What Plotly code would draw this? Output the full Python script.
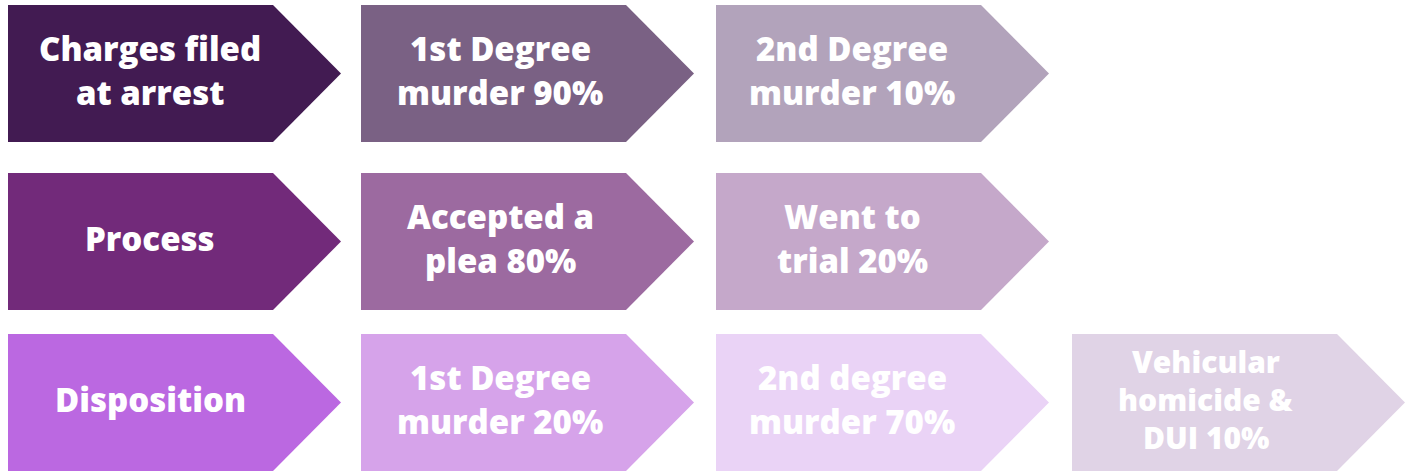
import plotly.graph_objects as go

# ---- data ----
stage_names = ["Charges filed at arrest", "Process", "Disposition"]
stage_lines = [["Charges filed", "at arrest"], ["Process"], ["Disposition"]]

arrest_outcomes = [["1st Degree", "murder"], ["2nd Degree", "murder"]]
arrest_pct = [90, 10]

process_outcomes = [["Accepted a", "plea"], ["Went to", "trial"]]
process_pct = [80, 20]

disposition_outcomes = [["1st Degree", "murder"], ["2nd degree", "murder"], ["Vehicular", "homicide &", "DUI"]]
disposition_pct = [20, 70, 10]

stage_colors = ["#421B52", "#722A7A", "#BB68E1"]
outcome_colors = [
    ["#7A6184", "#B2A3BB"],
    ["#9C6AA0", "#C5A8CA"],
    ["#D6A3EA", "#EAD3F6", "#E0D3E6"],
]

# ---- layout constants (page pixel coordinates) ----
W, H = 1412, 472
COL_X0 = [8, 361, 716, 1072]
RECT_W = 265
TIP = 68
ROW_TOP = [5, 173, 334]
ROW_H = 137
TEXT_DX = [142, 139, 136, 134]

fig = go.Figure()
annotations = []


def add_chevron(col, row, color, lines, size=33, spacing=44):
    x0 = COL_X0[col]
    top = ROW_TOP[row]
    bot = top + ROW_H
    mid = (top + bot) / 2
    xs = [x0, x0 + RECT_W, x0 + RECT_W + TIP, x0 + RECT_W, x0, x0]
    ys = [top, top, mid, bot, bot, top]
    fig.add_trace(go.Scatter(x=xs, y=ys, mode="lines", fill="toself",
                             fillcolor=color, line=dict(width=0, color=color),
                             hoverinfo="skip", showlegend=False))
    n = len(lines)
    cx = x0 + TEXT_DX[col]
    cy = mid - 3
    for i, ln in enumerate(lines):
        y = cy + (i - (n - 1) / 2) * spacing
        annotations.append(dict(x=cx, y=y, xref="x", yref="y", text=ln,
                                showarrow=False, xanchor="center", yanchor="middle",
                                font=dict(family="Open Sans", size=size, color="white", weight=800)))


outcomes = [arrest_outcomes, process_outcomes, disposition_outcomes]
pcts = [arrest_pct, process_pct, disposition_pct]

for r in range(3):
    add_chevron(0, r, stage_colors[r], stage_lines[r])
    for c, (lbl, p) in enumerate(zip(outcomes[r], pcts[r])):
        lines = list(lbl)
        lines[-1] = f"{lines[-1]} {p}%"
        if len(lines) == 3:
            add_chevron(c + 1, r, outcome_colors[r][c], lines, size=30, spacing=38)
        else:
            add_chevron(c + 1, r, outcome_colors[r][c], lines)

fig.update_layout(
    width=W, height=H, autosize=False,
    margin=dict(l=0, r=0, t=0, b=0),
    paper_bgcolor="white", plot_bgcolor="white",
    xaxis=dict(range=[0, W], visible=False, fixedrange=True),
    yaxis=dict(range=[H, 0], visible=False, fixedrange=True),
    annotations=annotations,
)

fig.write_html("out.html", config={"displayModeBar": False},
               post_script="document.body.style.margin='0';")
